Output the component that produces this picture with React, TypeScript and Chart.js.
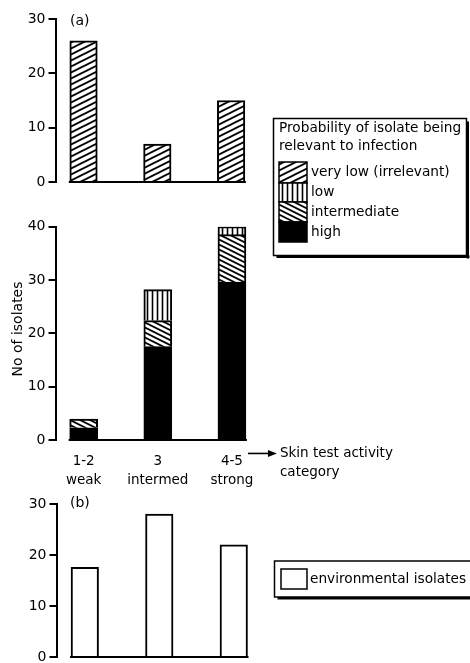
import React, { useEffect, useRef } from 'react';
import { Chart, registerables } from 'chart.js';
Chart.register(...registerables);

const FONT = "'DejaVu Sans', sans-serif";

// ---- data ----
const categories = ['1-2', '3', '4-5'];
const categoryNames = ['weak', 'intermed', 'strong'];
const veryLowCounts = [26, 7, 15];
const highCounts = [2.3, 17.5, 29.6];
const intermediateCounts = [1.6, 4.9, 8.9];
const lowCounts = [null, 5.8, 1.5];
const environmentalCounts = [17.6, 28, 22];
const panelALabel = '(a)';
const panelBLabel = '(b)';
const legendTitle = ['Probability of isolate being', 'relevant to infection'];
const legendLabels = ['very low (irrelevant)', 'low', 'intermediate', 'high'];
const envLabel = 'environmental isolates';
const yTitle = 'No of isolates';
const xTitle = ['Skin test activity', 'category'];

function makePattern(kind: string): CanvasPattern | string {
  const c = document.createElement('canvas');
  let w = 5, h = 5;
  if (kind === 'fwd') { w = 12; h = 6; }
  if (kind === 'back') { w = 10; h = 5; }
  c.width = w; c.height = h;
  const g = c.getContext('2d')!;
  g.fillStyle = '#fff';
  g.fillRect(0, 0, w, h);
  g.strokeStyle = '#000';
  g.lineWidth = 1.9;
  if (kind === 'fwd') {
    for (const k of [-1, 0, 1]) {
      g.beginPath(); g.moveTo(-w, (2 + k) * h); g.lineTo(2 * w, (k - 1) * h); g.stroke();
    }
  } else if (kind === 'back') {
    g.lineWidth = 1.8;
    for (const k of [-1, 0, 1]) {
      g.beginPath(); g.moveTo(-w, (k - 1) * h); g.lineTo(2 * w, (k + 2) * h); g.stroke();
    }
  } else {
    g.lineWidth = 1.6;
    g.beginPath(); g.moveTo(w / 2, 0); g.lineTo(w / 2, h); g.stroke();
  }
  return g.createPattern(c, 'repeat')!;
}

const baselinePlugin = {
  id: 'baseline',
  afterDatasetsDraw(chart: any) {
    let x0 = Infinity, x1 = -Infinity;
    chart.getSortedVisibleDatasetMetas().forEach((m: any) =>
      m.data.forEach((el: any) => {
        if (isFinite(el.x) && isFinite(el.width)) {
          x0 = Math.min(x0, el.x - el.width / 2);
          x1 = Math.max(x1, el.x + el.width / 2);
        }
      })
    );
    const y = chart.scales.y.getPixelForValue(0);
    const ctx = chart.ctx;
    ctx.save();
    ctx.strokeStyle = '#000';
    ctx.lineWidth = 2;
    ctx.beginPath();
    ctx.moveTo(x0 - 1, y);
    ctx.lineTo(x1 + 1, y);
    ctx.stroke();
    ctx.restore();
  },
};

function drawPlugin(id: string, fn: (chart: any, ctx: CanvasRenderingContext2D) => void) {
  return {
    id,
    afterDraw(chart: any) {
      const ctx = chart.ctx as CanvasRenderingContext2D;
      ctx.save();
      fn(chart, ctx);
      ctx.restore();
    },
  };
}

function shadowBox(ctx: CanvasRenderingContext2D, x: number, y: number, w: number, h: number) {
  ctx.fillStyle = '#fff';
  ctx.fillRect(x, y, w, h);
  ctx.strokeStyle = '#000';
  ctx.lineWidth = 1.5;
  ctx.strokeRect(x, y, w, h);
  ctx.fillStyle = '#000';
  ctx.fillRect(x + w, y + 3, 2.5, h);
  ctx.fillRect(x + 3, y + h, w, 2.5);
}

function yScale(max: number, left: number) {
  return {
    min: 0,
    max,
    ticks: { stepSize: 10, color: '#000', font: { family: FONT, size: 14 }, padding: 3 },
    grid: { drawOnChartArea: false, drawTicks: true, tickLength: 7, lineWidth: 2, color: '#000' },
    border: { display: true, width: 2, color: '#000' },
    afterFit: (s: any) => { s.width = left; },
  };
}

function xScale(show: boolean) {
  const s: any = {
    type: 'linear',
    min: -0.38,
    max: 2.5,
    offset: false,
    display: show,
    afterBuildTicks: (sc: any) => { sc.ticks = categories.map((_, i) => ({ value: i })); },
    grid: { display: false, offset: false },
    border: { display: false },
    ticks: {
      color: '#000',
      font: { family: FONT, size: 13.5, lineHeight: 1.4 },
      padding: 4,
      maxRotation: 0,
      autoSkip: false,
      callback: (v: any) => [categories[v], categoryNames[v]],
    },
  };
  if (show) s.afterFit = (sc: any) => { sc.height = 60; };
  return s;
}

const commonPlugins = { legend: { display: false }, tooltip: { enabled: false } };

export default function App() {
  const topRef = useRef<HTMLCanvasElement>(null);
  const midRef = useRef<HTMLCanvasElement>(null);
  const botRef = useRef<HTMLCanvasElement>(null);

  useEffect(() => {
    const fwd = makePattern('fwd');
    const back = makePattern('back');
    const vert = makePattern('vert');
    const charts: Chart[] = [];

    // ---- panel (a) top ----
    charts.push(
      new Chart(topRef.current!, {
        type: 'bar',
        data: {
          datasets: [
            {
              label: legendLabels[0],
              data: categories.map((_, i) => ({ x: i, y: veryLowCounts[i] })),
              backgroundColor: fwd as any,
              borderColor: '#000',
              borderWidth: 2,
              barThickness: 27.5,
            },
          ],
        },
        options: {
          animation: false,
          responsive: false,
          layout: { padding: { top: 19, bottom: 18, left: 0, right: 202 } },
          plugins: commonPlugins as any,
          scales: { x: xScale(false), y: yScale(30, 55.5) as any },
        },
        plugins: [
          baselinePlugin,
          drawPlugin('labelA', (chart, ctx) => {
            ctx.fillStyle = '#000';
            ctx.font = `14px ${FONT}`;
            ctx.textBaseline = 'middle';
            ctx.textAlign = 'left';
            ctx.fillText(panelALabel, 70, 21);
          }),
        ],
      })
    );

    // ---- stacked middle panel ----
    const midTop = 100;
    charts.push(
      new Chart(midRef.current!, {
        type: 'bar',
        data: {
          datasets: [
            {
              label: legendLabels[3],
              data: categories.map((_, i) => ({ x: i, y: highCounts[i] })),
              backgroundColor: '#000',
              borderColor: '#000',
              borderWidth: 2,
              barThickness: 28,
            },
            {
              label: legendLabels[2],
              data: categories.map((_, i) => ({ x: i, y: intermediateCounts[i] })),
              backgroundColor: back as any,
              borderColor: '#000',
              borderWidth: 2,
              barThickness: 28,
            },
            {
              label: legendLabels[1],
              data: categories.map((_, i) => ({ x: i, y: lowCounts[i] })),
              backgroundColor: vert as any,
              borderColor: '#000',
              borderWidth: 2,
              barThickness: 28,
            },
          ],
        },
        options: {
          animation: false,
          responsive: false,
          layout: { padding: { top: 126.7, bottom: 0, left: 0, right: 201 } },
          plugins: commonPlugins as any,
          scales: {
            x: { ...xScale(true), stacked: true },
            y: { ...(yScale(40, 55.5) as any), stacked: true },
          },
        },
        plugins: [
          baselinePlugin,
          drawPlugin('midText', (chart, ctx) => {
            ctx.fillStyle = '#000';
            // y axis title
            ctx.save();
            ctx.translate(18, 329 - midTop);
            ctx.rotate(-Math.PI / 2);
            ctx.font = `14px ${FONT}`;
            ctx.textAlign = 'center';
            ctx.textBaseline = 'middle';
            ctx.fillText(yTitle, 0, 0);
            ctx.restore();

            // arrow + x title
            const xs = chart.scales.x;
            const lh = 13.5 * 1.4;
            const yLine = chart.chartArea.bottom + 4 + lh / 2;
            const ax0 = xs.getPixelForValue(2) + 16;
            const ax1 = ax0 + 29;
            ctx.strokeStyle = '#000';
            ctx.lineWidth = 1.6;
            ctx.beginPath();
            ctx.moveTo(ax0, yLine);
            ctx.lineTo(ax1 - 6, yLine);
            ctx.stroke();
            ctx.beginPath();
            ctx.moveTo(ax1, yLine);
            ctx.lineTo(ax1 - 9, yLine - 3.5);
            ctx.lineTo(ax1 - 9, yLine + 3.5);
            ctx.closePath();
            ctx.fill();
            ctx.font = `13.5px ${FONT}`;
            ctx.textAlign = 'left';
            ctx.textBaseline = 'middle';
            ctx.fillText(xTitle[0], ax1 + 3, yLine);
            ctx.fillText(xTitle[1], ax1 + 3, yLine + lh);

            // legend box (a)
            const bx = 273.5, by = 118.5 - midTop, bw = 193, bh = 137;
            shadowBox(ctx, bx, by, bw, bh);
            ctx.fillStyle = '#000';
            ctx.font = `13.7px ${FONT}`;
            ctx.textAlign = 'left';
            ctx.textBaseline = 'middle';
            ctx.fillText(legendTitle[0], 279, 128 - midTop);
            ctx.fillText(legendTitle[1], 279, 146.5 - midTop);
            const rows = [162, 183, 202, 222, 242];
            const fills = [fwd, vert, back, '#000'];
            for (let i = 0; i < 4; i++) {
              const y0 = rows[i] - midTop, y1 = rows[i + 1] - midTop;
              ctx.fillStyle = fills[i] as any;
              ctx.fillRect(279, y0, 28, y1 - y0);
              ctx.strokeStyle = '#000';
              ctx.lineWidth = 1.5;
              ctx.strokeRect(279, y0, 28, y1 - y0);
              ctx.fillStyle = '#000';
              ctx.fillText(legendLabels[i], 311, (y0 + y1) / 2);
            }
          }),
        ],
      })
    );

    // ---- panel (b) bottom ----
    const botTop = 490;
    charts.push(
      new Chart(botRef.current!, {
        type: 'bar',
        data: {
          datasets: [
            {
              label: envLabel,
              data: categories.map((_, i) => ({ x: i, y: environmentalCounts[i] })),
              backgroundColor: '#fff',
              borderColor: '#000',
              borderWidth: 2,
              barThickness: 27.5,
            },
          ],
        },
        options: {
          animation: false,
          responsive: false,
          layout: { padding: { top: 14, bottom: 23, left: 0, right: 199 } },
          plugins: commonPlugins as any,
          scales: { x: xScale(false), y: yScale(30, 56.5) as any },
        },
        plugins: [
          baselinePlugin,
          drawPlugin('botText', (chart, ctx) => {
            ctx.fillStyle = '#000';
            ctx.font = `14px ${FONT}`;
            ctx.textBaseline = 'middle';
            ctx.textAlign = 'left';
            ctx.fillText(panelBLabel, 70, 503 - botTop);
            shadowBox(ctx, 274.5, 561 - botTop, 197, 36);
            ctx.fillStyle = '#fff';
            ctx.fillRect(281, 569 - botTop, 26, 20);
            ctx.strokeStyle = '#000';
            ctx.lineWidth = 1.5;
            ctx.strokeRect(281, 569 - botTop, 26, 20);
            ctx.fillStyle = '#000';
            ctx.font = `13.7px ${FONT}`;
            ctx.fillText(envLabel, 310, 579 - botTop);
          }),
        ],
      })
    );

    return () => charts.forEach((c) => c.destroy());
  }, []);

  return (
    <div style={{ position: 'absolute', left: 0, top: 0, width: 470, height: 663, background: '#fff', overflow: 'hidden' }}>
      <canvas ref={topRef} width={470} height={200} style={{ position: 'absolute', left: 0, top: 0 }} />
      <canvas ref={midRef} width={470} height={400} style={{ position: 'absolute', left: 0, top: 100 }} />
      <canvas ref={botRef} width={470} height={190} style={{ position: 'absolute', left: 0, top: 490 }} />
    </div>
  );
}
